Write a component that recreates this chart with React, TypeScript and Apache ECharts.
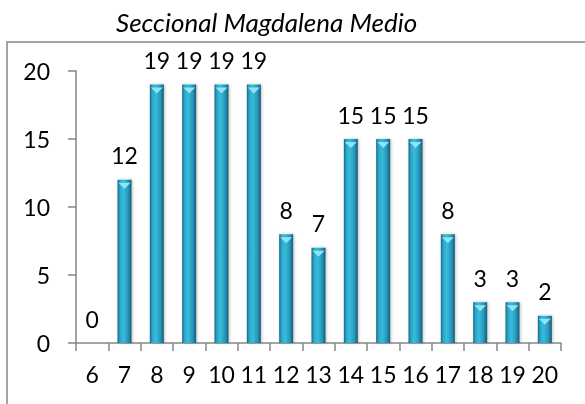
import React, { useEffect, useRef } from "react";
import * as echarts from "echarts";

const categories = ["6", "7", "8", "9", "10", "11", "12", "13", "14", "15", "16", "17", "18", "19", "20"];
const values = [0, 12, 19, 19, 19, 19, 8, 7, 15, 15, 15, 8, 3, 3, 2];
const yTicks = { min: 0, max: 20, interval: 5 };
const titleText = "Seccional Magdalena Medio";

const FONT = "Lato";
const AXIS = "#868686";

export default function App() {
  const ref = useRef<HTMLDivElement>(null);
  useEffect(() => {
    const chart = echarts.init(ref.current!, null, { renderer: "svg" });
    const barColor = new echarts.graphic.LinearGradient(0, 0, 1, 0, [
      { offset: 0, color: "#1b6680" },
      { offset: 0.18, color: "#2aa8cc" },
      { offset: 0.42, color: "#38bcdc" },
      { offset: 0.75, color: "#2698bc" },
      { offset: 1, color: "#175a72" },
    ]);
    chart.setOption({
      animation: false,
      title: {
        text: titleText,
        left: 116,
        top: 9,
        padding: 0,
        textStyle: { fontFamily: FONT, fontStyle: "italic", fontWeight: "normal", fontSize: 26, color: "#000" },
      },
      graphic: [
        {
          type: "rect",
          shape: { x: 7, y: 42, width: 620, height: 420 },
          style: { fill: "none", stroke: AXIS, lineWidth: 1.5 },
          silent: true,
          z: -1,
        },
      ],
      grid: { left: 76, right: 24, top: 71, bottom: 61 },
      xAxis: {
        type: "category",
        data: categories,
        axisLine: { lineStyle: { color: AXIS, width: 1.5 } },
        axisTick: { show: true, length: 8, alignWithLabel: false, lineStyle: { color: AXIS, width: 1.5 } },
        axisLabel: { fontFamily: FONT, fontSize: 23, color: "#000", margin: 19, interval: 0 },
      },
      yAxis: {
        type: "value",
        min: yTicks.min,
        max: yTicks.max,
        interval: yTicks.interval,
        splitLine: { show: false },
        axisLine: { show: true, lineStyle: { color: AXIS, width: 1.5 } },
        axisTick: { show: true, length: 8, lineStyle: { color: AXIS, width: 1.5 } },
        axisLabel: { fontFamily: FONT, fontSize: 23, color: "#000", margin: 26 },
      },
      series: [
        {
          type: "bar",
          data: values,
          barWidth: 14,
          itemStyle: { color: barColor, shadowColor: "rgba(0,0,0,0.25)", shadowBlur: 3, shadowOffsetX: 1 },
          label: {
            show: true,
            position: "top",
            distance: 13,
            fontFamily: FONT,
            fontSize: 23,
            color: "#000",
          },
          z: 2,
        },
        {
          type: "pictorialBar",
          data: values.map((v) => (v > 0 ? v : "-")),
          symbol: "path://M0,0 L10,0 L5,5 Z",
          symbolSize: [12, 6],
          symbolPosition: "end",
          symbolOffset: [0, "50%"],
          itemStyle: { color: "#8fe4f4" },
          silent: true,
          z: 3,
        },
      ],
    });
    return () => chart.dispose();
  }, []);
  return <div ref={ref} style={{ position: "fixed", left: 0, top: 0, width: 585, height: 404 }} />;
}
